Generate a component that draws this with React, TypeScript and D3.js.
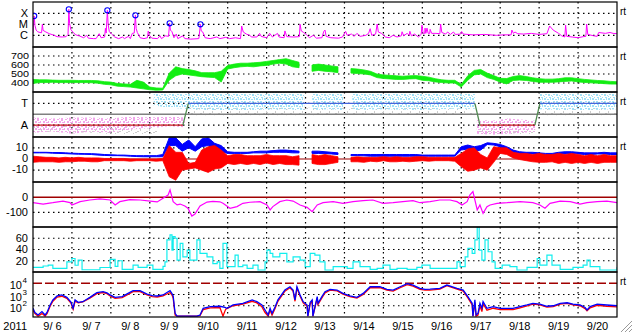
import React from "react";
import * as d3 from "d3";

// ---------------- data ----------------
const YEAR = 2011;
const MONTH_INDEX = 8; // September
const FIRST_DAY = 6;
const LAST_DAY = 21;
const STEP = 1 / 6; // 4-hour cadence for sampled series

// GOES X-ray flux, [day of Sept, flux in 1e-6 W/m2]
const xrayFlux: [number, number][] = [
  [6.0, 1.6], [6.02, 20], [6.03, 57], [6.05, 8], [6.08, 3], [6.12, 2.1], [6.18, 1.8], [6.22, 1.7], [6.24, 10], [6.26, 2.8],
  [6.33, 2.0], [6.42, 1.4], [6.52, 1.07], [6.62, 0.75], [6.75, 0.7], [6.85, 0.75], [6.9, 1.2], [6.92, 230], [6.94, 12], [6.97, 3.5],
  [7.02, 2.0], [7.1, 1.1], [7.2, 0.85], [7.3, 0.6], [7.38, 1.0], [7.42, 0.55], [7.55, 0.5], [7.62, 0.5], [7.7, 1.4], [7.75, 0.6],
  [7.84, 0.7], [7.86, 4.3], [7.88, 1.6], [7.91, 187], [7.93, 10], [7.96, 2.2], [8.02, 1.3], [8.1, 0.7], [8.2, 0.5], [8.3, 0.7],
  [8.35, 0.5], [8.45, 0.8], [8.5, 0.5], [8.55, 1.5], [8.6, 1.6], [8.63, 66], [8.65, 4], [8.68, 1.8], [8.75, 0.6], [8.85, 0.5],
  [8.94, 0.6], [8.96, 2.4], [8.99, 1.0], [9.05, 0.55], [9.2, 0.5], [9.26, 0.9], [9.3, 0.5], [9.4, 0.9], [9.48, 0.8], [9.51, 12.3],
  [9.53, 3], [9.57, 2.1], [9.62, 0.6], [9.68, 1.3], [9.72, 0.5], [9.85, 0.9], [9.9, 0.5], [10.05, 0.45], [10.26, 0.5], [10.3, 10],
  [10.32, 2.5], [10.36, 2.0], [10.42, 0.6], [10.55, 0.5], [10.72, 0.7], [10.8, 0.5], [10.95, 0.65], [11.05, 0.5], [11.2, 0.6], [11.33, 0.5],
  [11.36, 7], [11.4, 2.0], [11.48, 1.3], [11.56, 1.0], [11.62, 0.7], [11.75, 0.7], [11.82, 1.5], [11.86, 0.8], [12.0, 0.6], [12.08, 1.5],
  [12.15, 0.7], [12.28, 1.5], [12.32, 0.7], [12.45, 0.6], [12.47, 2.5], [12.52, 0.75], [12.7, 0.7], [12.84, 0.75], [12.86, 10], [12.89, 2.5],
  [12.95, 1.8], [13.02, 1.2], [13.1, 0.6], [13.2, 1.0], [13.28, 0.55], [13.42, 0.6], [13.47, 2.3], [13.5, 3], [13.53, 0.8], [13.65, 0.6],
  [13.85, 0.55], [13.95, 0.7], [14.03, 2.3], [14.07, 1.0], [14.18, 1.3], [14.25, 0.8], [14.32, 1.5], [14.4, 0.8], [14.55, 1.0], [14.62, 1.5],
  [14.66, 4], [14.7, 1.0], [14.8, 1.3], [14.84, 10.6], [14.87, 2.0], [14.95, 1.5], [15.05, 0.7], [15.15, 0.6], [15.25, 1.0], [15.35, 0.7],
  [15.46, 0.9], [15.48, 2.1], [15.52, 0.9], [15.61, 1.5], [15.66, 1.0], [15.68, 2.3], [15.72, 0.9], [15.8, 1.3], [15.9, 0.7], [15.97, 1.2],
  [15.99, 8.4], [16.02, 1.5], [16.06, 1.5], [16.07, 4.5], [16.09, 1.5], [16.12, 4.5], [16.15, 1.5], [16.19, 1.5], [16.2, 3.5], [16.24, 1.5],
  [16.35, 1.5], [16.45, 1.4], [16.47, 10.6], [16.5, 1.8], [16.6, 1.3], [16.65, 2.0], [16.72, 1.2], [16.8, 2.0], [16.85, 1.2], [16.98, 1.3],
  [17.01, 2.2], [17.05, 1.3], [17.3, 1.1], [17.6, 1.2], [17.9, 1.0], [18.1, 1.1], [18.28, 1.1], [18.3, 3], [18.34, 1.5], [18.38, 2.0],
  [18.45, 1.4], [18.6, 1.3], [18.8, 1.5], [19.0, 1.2], [19.2, 1.4], [19.27, 7], [19.36, 3], [19.5, 1.5], [19.58, 0.9], [19.66, 0.7],
  [19.68, 8.4], [19.71, 0.8], [19.85, 0.7], [20.0, 0.6], [20.13, 0.75], [20.2, 0.8], [20.22, 10.6], [20.25, 1.2], [20.4, 0.9], [20.49, 0.8],
  [20.53, 1.8], [20.7, 1.5], [20.82, 1.8], [20.9, 1.5], [21.0, 1.4],
];
const flarePeaks: [number, number][] = [[6.03, 57], [6.92, 230], [7.91, 187], [8.63, 66], [9.51, 12.3], [10.3, 10]];
const xrayClassLevels: [string, number][] = [["X", 100], ["M", 10], ["C", 1]];

// Solar wind speed (km/s), 4-hour min / max
const windSpeedLo: (number | null)[] = [
  395, 405, 405, 408, 405, 405, 405, 405, 405, 403, 398, 385, 380, 365, 360, 355, 345, 335, 325, 320,
  322, 430, 480, 500, 490, 480, 470, 465, 460, 410, 555, 570, 580, 585, 580, 590, 595, 610, 620, 610,
  580, 570, null, 530, 540, 530, 525, 515, null, 510, 505, 500, 490, 460, 450, 445, 440, 440, 445, 448,
  430, 425, 412, 405, 400, 400, 355, 430, 490, 500, 460, 440, 410, 390, 428, 432, 428, 418, 408, 408,
  408, 412, 418, 422, 412, 406, 402, 398, 393, 388, 388,
];
const windSpeedHi: (number | null)[] = [
  440, 435, 435, 432, 430, 430, 430, 428, 428, 428, 425, 415, 410, 395, 390, 385, 430, 410, 355, 345,
  342, 510, 580, 560, 550, 535, 515, 515, 515, 530, 595, 610, 620, 620, 625, 630, 640, 650, 660, 670,
  650, 630, null, 600, 610, 600, 590, 580, null, 560, 555, 545, 530, 500, 490, 485, 480, 475, 480, 482,
  475, 465, 448, 435, 430, 430, 385, 480, 540, 550, 510, 482, 452, 450, 472, 482, 472, 458, 448, 443,
  443, 448, 458, 458, 448, 440, 434, 428, 424, 418, 414,
];
const windSpeedTicks = [700, 600, 500, 400];

// IMF sector (T = toward +1, A = away -1)
const sectorDays = [6, 9.85, 9.99, 17.35, 17.48, 18.89, 19.02, 21];
const sectorState = [-1, -1, 1, 1, -1, -1, 1, 1];
const sectorLabels: [string, number][] = [["T", 1], ["A", -1]];
// scattered field-angle samples, [day, low, high]
const phiAway: [number, number | null, number | null][] = [
  [6.0, -1.7, -0.3], [6.5, -1.6, -0.4], [7.0, -1.8, -0.3], [7.5, -1.6, -0.3], [8.0, -1.7, -0.4], [8.5, -1.4, -0.2],
  [9.0, -1.3, -0.3], [9.5, -1.1, -0.2], [9.9, -1.2, -0.3], [9.95, null, null],
  [17.4, -1.8, -0.5], [17.8, -1.9, -0.6], [18.2, -1.8, -0.4], [18.6, -1.7, -0.5], [18.9, -1.6, -0.6],
];
const phiToward: [number, number | null, number | null][] = [
  [9.1, 0.8, 2.0], [9.5, 0.6, 2.05], [9.9, 0.5, 2.05], [10.5, 0.4, 2.05], [11.5, 0.4, 2.05], [12.5, 0.45, 2.05], [12.97, 0.4, 2.05], [13.0, null, null],
  [13.17, 0.4, 2.05], [13.6, 0.45, 2.05], [13.97, 0.4, 2.05], [14.0, null, null],
  [14.2, 0.4, 2.05], [15.0, 0.45, 2.05], [16.0, 0.4, 2.05], [16.8, 0.5, 2.05], [17.35, 0.5, 2.05], [17.4, null, null],
  [19.0, 0.45, 2.05], [19.6, 0.4, 2.05], [20.3, 0.4, 2.05], [21.0, 0.45, 2.05],
];
const phiOther: [number, number | null, number | null][] = [
  [6.0, -1.6, -1.0], [7.5, -1.7, -1.0], [8.2, -1.9, -1.1], [9.2, -1.9, -1.1], [9.25, null, null],
  [10.0, -0.1, 0.6], [13.0, -0.1, 0.6], [16.0, 0.0, 0.6], [17.3, 0.0, 0.5], [17.35, null, null],
  [17.4, -1.9, -1.4], [18.9, -1.9, -1.4], [18.95, null, null],
  [19.0, -0.1, 0.5], [21.0, -0.1, 0.5],
];

// IMF |B| and Bz (nT), 4-hour min / max
const btLo: (number | null)[] = [
  5.5, 5.5, 5.5, 5.2, 5, 4.8, 4.5, 4.3, 4.2, 4, 3.5, 3.2, 3, 3, 2.8, 2.5, 2.2, 2, 2, 2,
  2, 12, 12, 7, 10, 7, 11, 12, 8, 6.5, 5, 5, 5, 5, 5.5, 5.5, 5.5, 6, 6, 6,
  5.5, 5.5, null, 5, 5, 5, 4.5, 4, null, 3, 3, 2.8, 2.5, 2.5, 2.5, 2.5, 2.5, 2.5, 2.5, 2.5,
  2.5, 2.5, 2.5, 2.5, 2.5, 2.5, 8, 9, 7, 8, 13, 12.5, 11, 8, 6, 5, 4.5, 4.5, 4, 4,
  4, 4.5, 4.5, 5, 4.5, 4, 4, 4.5, 4.5, 4, 4,
];
const btHi: (number | null)[] = [
  6, 6, 6, 5.8, 5.8, 5.5, 5.2, 5, 4.8, 4.8, 4.5, 4, 3.8, 3.5, 3.5, 3.2, 3, 3, 3, 3,
  4, 19, 19, 13, 17, 11, 18, 19, 14, 12, 6.5, 6, 6, 6, 6.5, 7, 7, 7.5, 8, 8,
  7.5, 7, null, 7, 7, 6.5, 6, 5.5, null, 4, 4, 4, 4, 4, 4, 4, 4, 4, 4, 4,
  3.5, 3.5, 3.5, 3.5, 3.5, 3.5, 11, 12.5, 11, 12, 14.5, 14, 13, 11, 8, 6.5, 6, 6, 5.5, 5,
  5, 6, 6.5, 6.5, 6, 5.5, 5.5, 5.5, 6, 5.5, 5.5,
];
const bzLo: (number | null)[] = [
  -3, -2.5, -2.5, -2.5, -3, -2.5, -2.5, -2, -2, -2.5, -2.5, -1.5, -1.5, -1.5, -1.5, -2, -1.5, -1.5, -1.5, -2,
  -1.5, -16, -19, -10, -9, -8, -10, -12, -9, -8, -4, -5, -4, -5, -4, -5, -3.5, -5, -4, -5,
  -5, -5.5, null, -4, -5, -5, -4, -3, null, -2.5, -2.5, -3, -2, -2.5, -1.5, -2.5, -2.5, -2, -2.5, -2,
  -1.5, -2, -1.5, -1.5, -1.5, -2, -7, -11, -10, -8, -10, -3, 5, 4, 1, -0.5, -1.5, -2.5, -3, -3,
  -2.5, -4, -3, -4, -3, -4, -3, -4, -3, -3, -3,
];
const bzHi: (number | null)[] = [
  2.5, 2, 1.5, 1.5, 1, 1.5, 1, 1.5, 1, 1, 1, 0.5, 0.5, 0.5, 0.5, 0, 0, 0, 0, 0,
  0.5, 12, 6, 6, -4, -3, 8, 11, 12, 8, 3, 4, 4, 3, 3, 3, 4, 3, 3, 3,
  2, 3, null, 4, 3, 4, 3, 2, null, 1.5, 2, 1.5, 1.5, 1.5, 2, 1.5, 2, 1.5, 1.5,
  2, 2, 1.5, 1.5, 1.5, 1.5, 1.5, 5, 9, 10, 4, 1, 11, 10, 10, 6, 5, 5, 4, 5, 4,
  4, 5, 4, 5, 4, 3, 4, 3, 4, 3, 3,
];
const bTicks = [10, 0, -10];

// Dst (nT)
const dstIndex: [number, number][] = [
  [6.0, -36], [6.26, -45], [6.51, -36], [6.77, -25], [6.95, -35], [7.0, -51], [7.21, -29], [7.46, -18], [7.72, -11], [7.98, -18],
  [8.11, -51], [8.23, -29], [8.49, -16], [8.75, -18], [9.01, -25], [9.19, -31], [9.34, -7], [9.47, 15], [9.52, 49], [9.6, -29],
  [9.7, -51], [9.78, -45], [9.9, -58], [9.98, -73], [10.08, -125], [10.16, -111], [10.29, -58], [10.47, -32], [10.62, -27], [10.8, -30],
  [10.88, -40], [11.06, -73], [11.24, -62], [11.39, -40], [11.57, -33], [11.83, -29], [12.01, -51], [12.09, -84], [12.16, -62], [12.34, -29],
  [12.52, -18], [12.68, -25], [12.86, -51], [13.04, -67], [13.17, -96], [13.3, -51], [13.45, -36], [13.71, -29], [13.96, -40], [14.22, -29],
  [14.48, -22], [14.73, -18], [14.99, -40], [15.25, -36], [15.5, -29], [15.76, -22], [15.94, -36], [16.2, -29], [16.45, -18], [16.71, -18],
  [16.89, -29], [17.02, -51], [17.15, -29], [17.22, 15], [17.3, 38], [17.35, -18], [17.41, -84], [17.48, -51], [17.56, -107], [17.66, -62],
  [17.74, -51], [17.92, -40], [18.18, -36], [18.51, -29], [18.84, -36], [19.02, -51], [19.15, -73], [19.28, -40], [19.54, -25], [19.8, -29],
  [20.05, -45], [20.23, -36], [20.49, -29], [20.74, -25], [21.0, -36],
];
const dstTicks = [0, -100];

// activity index (cyan)
const activityIndex: [number, number][] = [
  [6.0, 8.3], [6.26, 10.7], [6.39, 12.4], [6.51, 6.5], [6.87, 18], [7.0, 24], [7.08, 12], [7.16, 21], [7.26, 4], [7.72, 8],
  [7.98, 22.5], [8.11, 10], [8.18, 20], [8.29, 4.7], [8.57, 12.4], [8.7, 8.3], [8.93, 12.4], [9.08, 4.7], [9.34, 10], [9.39, 18],
  [9.44, 57], [9.52, 66], [9.57, 39], [9.6, 63], [9.65, 60], [9.7, 21], [9.78, 51], [9.85, 27], [9.96, 39], [10.03, 21],
  [10.21, 57], [10.29, 33], [10.47, 27], [10.62, 15], [10.73, 18], [10.8, 6.5], [10.88, 51], [10.98, 9.5], [11.19, 30], [11.27, 9.5],
  [11.39, 12.4], [11.5, 6.5], [11.65, 12.4], [11.78, 3.6], [11.96, 18], [12.01, 39], [12.09, 33], [12.16, 27], [12.34, 33], [12.52, 18],
  [12.68, 27], [12.86, 21], [12.99, 9.5], [13.12, 33], [13.24, 30], [13.37, 18], [13.5, 3.6], [13.71, 9.5], [13.89, 9.5], [14.07, 6.5],
  [14.22, 18], [14.4, 9.5], [14.66, 4.7], [14.84, 6.5], [14.99, 12.4], [15.17, 4.7], [15.35, 6.5], [15.61, 4.7], [15.86, 8.3], [15.99, 12.4],
  [16.2, 6.5], [16.79, 6.5], [16.89, 18], [16.97, 9.5], [17.1, 27], [17.17, 42], [17.28, 33], [17.35, 57], [17.41, 80], [17.46, 39],
  [17.53, 21], [17.61, 57], [17.69, 36], [17.79, 18], [17.87, 6.5], [18.05, 12.4], [18.25, 9.5], [18.43, 3.6], [18.69, 8.3], [18.95, 24],
  [19.02, 12.4], [19.2, 30], [19.33, 12.4], [19.54, 4.7], [19.87, 8.3], [20.13, 12.4], [20.23, 21], [20.31, 9.5], [20.56, 3.6], [21.0, 8.3],
];
const activityTicks = [60, 40, 20];

// electron flux, two channels
const fluxBlue: [number, number][] = [
  [6.0, 59], [6.05, 25], [6.13, 15], [6.23, 30], [6.31, 15], [6.36, 25], [6.44, 117], [6.51, 330], [6.62, 740], [6.74, 910],
  [6.87, 560], [6.98, 200], [7.0, 117], [7.03, 60], [7.08, 330], [7.16, 200], [7.28, 230], [7.46, 560], [7.64, 1450], [7.8, 1780],
  [7.9, 1400], [7.98, 910], [8.11, 560], [8.29, 640], [8.44, 1260], [8.57, 2180], [8.75, 2180], [8.93, 1100], [9.06, 800], [9.19, 740],
  [9.34, 910], [9.44, 1500], [9.52, 2180], [9.57, 1200], [9.6, 740], [9.65, 21], [9.7, 12], [10.21, 12], [10.29, 15], [10.37, 59],
  [10.55, 83], [10.8, 90], [10.93, 70], [10.98, 59], [11.14, 117], [11.39, 165], [11.63, 330], [11.75, 230], [11.88, 117], [11.96, 42],
  [12.04, 15], [12.09, 60], [12.14, 21], [12.22, 83], [12.29, 330], [12.47, 2500], [12.6, 4900], [12.68, 2500], [12.73, 330], [12.78, 4900],
  [12.86, 910], [12.94, 230], [13.04, 117], [13.06, 12], [13.12, 200], [13.17, 330], [13.19, 12], [13.3, 640], [13.32, 165], [13.42, 640],
  [13.5, 1780], [13.63, 2900], [13.81, 2500], [13.96, 1260], [14.14, 740], [14.32, 560], [14.48, 1260], [14.66, 4900], [14.91, 4900], [15.09, 2900],
  [15.25, 2500], [15.43, 4900], [15.61, 9100], [15.76, 6900], [15.94, 3500], [16.07, 2900], [16.2, 3000], [16.45, 3500], [16.63, 6900], [16.89, 3500],
  [17.05, 2500], [17.17, 640], [17.28, 165], [17.3, 12], [17.35, 330], [17.38, 15], [17.43, 21], [17.48, 165], [17.53, 60], [17.56, 230],
  [17.66, 59], [17.82, 83], [18.0, 59], [18.18, 59], [18.33, 59], [18.51, 83], [18.69, 117], [18.84, 165], [19.02, 140], [19.2, 90],
  [19.36, 100], [19.54, 165], [19.72, 185], [19.87, 140], [20.05, 117], [20.18, 70], [20.23, 42], [20.31, 83], [20.49, 140], [20.74, 117],
  [21.0, 100],
];
const fluxRed: [number, number][] = [
  [6.0, 40], [6.05, 20], [6.13, 12], [6.23, 20], [6.31, 12], [6.36, 20], [6.44, 90], [6.51, 250], [6.62, 600], [6.74, 700],
  [6.87, 450], [6.98, 160], [7.0, 100], [7.03, 50], [7.08, 250], [7.16, 180], [7.28, 220], [7.46, 480], [7.64, 1200], [7.8, 1500],
  [7.9, 1200], [7.98, 750], [8.11, 450], [8.29, 520], [8.44, 1000], [8.57, 1800], [8.75, 1800], [8.93, 900], [9.06, 650], [9.19, 600],
  [9.34, 750], [9.44, 1100], [9.52, 1500], [9.57, 900], [9.6, 500], [9.65, 15], [9.7, 12], [10.21, 12], [10.29, 13], [10.37, 45],
  [10.55, 65], [10.8, 70], [10.88, 12], [10.95, 50], [11.14, 100], [11.39, 140], [11.63, 250], [11.75, 180], [11.88, 80], [11.96, 25],
  [12.04, 12], [12.09, 40], [12.14, 15], [12.22, 60], [12.29, 250], [12.47, 2000], [12.6, 4000], [12.68, 2000], [12.73, 250], [12.78, 3800],
  [12.86, 700], [12.94, 180], [13.04, 90], [13.06, 12], [13.12, 150], [13.17, 250], [13.19, 12], [13.3, 500], [13.32, 130], [13.42, 500],
  [13.5, 1400], [13.63, 2400], [13.81, 2100], [13.96, 1100], [14.14, 650], [14.32, 480], [14.48, 1000], [14.66, 4000], [14.91, 4000], [15.09, 2500],
  [15.25, 2000], [15.43, 4000], [15.61, 7500], [15.76, 5500], [15.94, 2900], [16.07, 2500], [16.2, 2500], [16.45, 3000], [16.63, 6000], [16.89, 3000],
  [17.05, 2000], [17.17, 500], [17.28, 120], [17.3, 12], [17.35, 200], [17.38, 12], [17.43, 15], [17.48, 100], [17.53, 30], [17.56, 150],
  [17.66, 40], [17.82, 60], [18.0, 45], [18.18, 45], [18.33, 45], [18.51, 65], [18.69, 95], [18.84, 140], [19.02, 120], [19.2, 75],
  [19.36, 85], [19.54, 140], [19.72, 160], [19.87, 120], [20.05, 100], [20.18, 55], [20.23, 35], [20.31, 65], [20.49, 110], [20.74, 90],
  [21.0, 80],
];
const fluxTickExponents = [4, 3, 2];
const fluxAlertLevel = 1e4;

// ---------------- layout / style ----------------
const W = 633;
const H = 334;
const X0 = 33;
const X1 = 617;
const TOP = 2;
const PH = 45;
const FONT = "'Liberation Sans', Arial, sans-serif";
const DOT = "1.5,3.5";

const dayToDate = (d: number) => new Date(Date.UTC(YEAR, MONTH_INDEX, 1) + (d - 1) * 864e5);
const stepDay = (i: number) => FIRST_DAY + i * STEP;
const panelTop = (k: number) => TOP + k * PH;

export default function App() {
  const x = d3.scaleUtc().domain([dayToDate(FIRST_DAY), dayToDate(LAST_DAY)]).range([X0, X1]);
  const xd = (d: number) => x(dayToDate(d));

  const yXray = d3.scaleLog().domain([0.1, 1000]).range([panelTop(1) - 0.7, TOP + 0.3]);
  const yV = d3.scaleLinear().domain([300, 800]).range([panelTop(2), panelTop(1)]);
  const yPhi = d3.scaleLinear().domain([-2.1, 2.05]).range([panelTop(3), panelTop(2)]);
  const yB = d3.scaleLinear().domain([-20.6, 19.7]).range([panelTop(4), panelTop(3)]);
  const yDst = d3.scaleLinear().domain([-198, 102]).range([panelTop(5), panelTop(4)]);
  const yAct = d3.scaleLinear().domain([0, 80]).range([panelTop(6), panelTop(5)]);
  const yFlux = d3.scaleLog().domain([10, 1e5]).range([panelTop(7), panelTop(6)]);

  const pairLine = (y: (v: number) => number, curve: d3.CurveFactory = d3.curveLinear) =>
    d3.line<[number, number]>().x((p) => xd(p[0])).y((p) => y(p[1])).curve(curve);

  const sampledBand = (lo: (number | null)[], hi: (number | null)[], y: (v: number) => number) =>
    d3
      .area<number>()
      .defined((i) => lo[i] != null && hi[i] != null)
      .x((i) => xd(stepDay(i)))
      .y0((i) => y(lo[i] as number))
      .y1((i) => y(hi[i] as number))(d3.range(lo.length)) || "";

  const tupleBand = (data: [number, number | null, number | null][], y: (v: number) => number) =>
    d3
      .area<[number, number | null, number | null]>()
      .defined((p) => p[1] != null)
      .x((p) => xd(p[0]))
      .y0((p) => y(p[1] as number))
      .y1((p) => y(p[2] as number))(data) || "";

  const midnights = d3.utcDay.range(dayToDate(FIRST_DAY + 1), dayToDate(LAST_DAY));
  const days = d3.utcDay.range(dayToDate(FIRST_DAY), dayToDate(LAST_DAY));
  const fmt = d3.utcFormat("%-m/%e");

  const hDot = (y: number, key: string) => (
    <line key={key} x1={X0} x2={X1} y1={y} y2={y} stroke="#000" strokeWidth={1.2} strokeDasharray={DOT} />
  );
  const label = (t: string, y: number, key: string, size = 11) => (
    <text key={key} x={28} y={y + size * 0.36} textAnchor="end" fontSize={size} fontFamily={FONT}>
      {t}
    </text>
  );
  const rt = (k: number) => (
    <text key={"rt" + k} x={620} y={panelTop(k) + 13} fontSize={10} fontFamily={FONT}>
      rt
    </text>
  );

  const sectorSegs = d3.range(sectorDays.length - 1).map((i) => {
    const s0 = sectorState[i];
    const s1 = sectorState[i + 1];
    const color = s0 !== s1 ? "#4f8a4f" : s0 > 0 ? "#4466dd" : "#cc2222";
    return (
      <line
        key={"sec" + i}
        x1={xd(sectorDays[i])}
        x2={xd(sectorDays[i + 1])}
        y1={yPhi(s0)}
        y2={yPhi(s1)}
        stroke={color}
        strokeWidth={1.3}
      />
    );
  });

  const speck = (id: string, color: string, cells: number[][], w: number, h: number) => (
    <pattern id={id} width={w} height={h} patternUnits="userSpaceOnUse">
      {cells.map((c, i) => (
        <rect key={i} x={c[0]} y={c[1]} width={c[2]} height={c[3]} fill={color} />
      ))}
    </pattern>
  );

  return (
    <svg
      width={W}
      height={H}
      style={{ position: "absolute", left: 0, top: 0, background: "#fff" }}
      fontFamily={FONT}
    >
      <defs>
        {d3.range(7).map((k) => (
          <clipPath id={"clip" + k} key={k}>
            <rect x={X0} y={panelTop(k)} width={X1 - X0} height={PH} />
          </clipPath>
        ))}
        {speck("pCyan", "#9fe0f6", [[0, 0, 2, 2], [3, 1, 2, 1], [6, 0, 1, 2], [1, 3, 2, 1], [4, 3, 2, 2], [7, 4, 1, 1], [0, 5, 1, 1], [5, 6, 2, 1], [2, 6, 1, 1]], 8, 7)}
        {speck("pPink", "#f2a6eb", [[1, 0, 2, 1], [5, 0, 2, 2], [0, 2, 1, 2], [3, 2, 2, 2], [7, 3, 1, 1], [1, 5, 2, 1], [5, 5, 2, 2], [3, 6, 1, 1], [6, 3, 1, 1]], 8, 7)}
        {speck("pGray", "#cccccc", [[0, 0, 2, 1], [5, 3, 1, 2], [2, 5, 2, 1], [7, 1, 1, 1]], 9, 6)}
      </defs>

      {/* vertical day grid */}
      {midnights.map((d, i) => (
        <line
          key={"vg" + i}
          x1={x(d)}
          x2={x(d)}
          y1={TOP}
          y2={panelTop(7)}
          stroke="#000"
          strokeWidth={1.2}
          strokeDasharray={DOT}
        />
      ))}

      {/* Panel 1: X-ray */}
      {xrayClassLevels.map(([c, v]) => hDot(yXray(v), "xg" + c))}
      {xrayClassLevels.map(([c, v]) => label(c, yXray(v), "xl" + c))}
      <g clipPath="url(#clip0)">
        <path d={pairLine(yXray)(xrayFlux) || ""} fill="none" stroke="#ff00ff" strokeWidth={1} />
        {flarePeaks.map(([d, v], i) => (
          <circle key={"fl" + i} cx={xd(d)} cy={yXray(v)} r={2.6} fill="none" stroke="#0000ff" strokeWidth={1.1} />
        ))}
      </g>

      {/* Panel 2: speed */}
      {windSpeedTicks.map((v) => hDot(yV(v), "vg" + v))}
      {windSpeedTicks.map((v) => (
        <text
          key={"vl" + v}
          x={29}
          y={yV(v) + 3.2}
          textAnchor="end"
          fontSize={8.6}
          fontFamily={FONT}
          textLength={18}
          lengthAdjust="spacingAndGlyphs"
        >
          {v}
        </text>
      ))}
      <g clipPath="url(#clip1)">
        <path d={sampledBand(windSpeedLo, windSpeedHi, yV)} fill="#11ee11" stroke="#11ee11" strokeWidth={0.8} />
      </g>

      {/* Panel 3: sector */}
      <g clipPath="url(#clip2)">
        <path d={tupleBand(phiOther, yPhi)} fill="url(#pGray)" />
        <path d={tupleBand(phiAway, yPhi)} fill="url(#pPink)" />
        <path d={tupleBand(phiToward, yPhi)} fill="url(#pCyan)" />
      </g>
      {sectorLabels.map(([t, v]) => hDot(yPhi(v), "sg" + t))}
      {sectorLabels.map(([t, v]) => label(t, yPhi(v), "sl" + t))}
      <line x1={X0} x2={X1} y1={yPhi(0)} y2={yPhi(0)} stroke="#808080" strokeWidth={1.3} />
      {sectorSegs}

      {/* Panel 4: IMF */}
      {bTicks.filter((v) => v !== 0).map((v) => hDot(yB(v), "bg" + v))}
      {bTicks.map((v) => label(String(v), yB(v) - 1, "bl" + v))}
      <line x1={X0} x2={X1} y1={yB(0)} y2={yB(0)} stroke="#a00000" strokeWidth={1.2} />
      <g clipPath="url(#clip3)">
        <path d={sampledBand(btLo, btHi, yB)} fill="#0000ff" stroke="#0000ff" strokeWidth={1} />
        <path d={sampledBand(bzLo, bzHi, yB)} fill="#ff0000" stroke="#ff0000" strokeWidth={0.8} />
      </g>

      {/* Panel 5: Dst */}
      {dstTicks.filter((v) => v !== 0).map((v) => hDot(yDst(v), "dg" + v))}
      {dstTicks.map((v) => label(String(v), yDst(v), "dl" + v))}
      <line x1={X0} x2={X1} y1={yDst(0)} y2={yDst(0)} stroke="#a00000" strokeWidth={1.5} />
      <g clipPath="url(#clip4)">
        <path d={pairLine(yDst)(dstIndex) || ""} fill="none" stroke="#ff00ff" strokeWidth={1.2} />
      </g>

      {/* Panel 6: activity */}
      {activityTicks.map((v) => hDot(yAct(v), "ag" + v))}
      {activityTicks.map((v) => label(String(v), yAct(v), "al" + v))}
      <g clipPath="url(#clip5)">
        <path d={pairLine(yAct, d3.curveStepAfter)(activityIndex) || ""} fill="none" stroke="#11eeee" strokeWidth={1.2} />
      </g>

      {/* Panel 7: flux */}
      {fluxTickExponents.filter((e) => e !== 4).map((e) => hDot(yFlux(Math.pow(10, e)), "fg" + e))}
      <line
        x1={X0}
        x2={X1}
        y1={yFlux(fluxAlertLevel)}
        y2={yFlux(fluxAlertLevel)}
        stroke="#a00000"
        strokeWidth={1.3}
        strokeDasharray="9,3"
      />
      {fluxTickExponents.map((e) => {
        const y = yFlux(Math.pow(10, e));
        return (
          <text key={"ft" + e} x={22} y={y + 6} textAnchor="end" fontSize={11} fontFamily={FONT}>
            10
            <tspan x={22.5} y={y} fontSize={8} textAnchor="start">
              {e}
            </tspan>
          </text>
        );
      })}
      <g clipPath="url(#clip6)">
        <path d={pairLine(yFlux)(fluxRed) || ""} fill="none" stroke="#ff0000" strokeWidth={1.3} />
        <path d={pairLine(yFlux)(fluxBlue) || ""} fill="none" stroke="#0000ff" strokeWidth={1.3} />
      </g>

      {/* frames */}
      {d3.range(7).map((k) => (
        <rect
          key={"fr" + k}
          x={X0}
          y={panelTop(k)}
          width={X1 - X0}
          height={PH}
          fill="none"
          stroke="#000"
          strokeWidth={1.2}
        />
      ))}
      {[0, 1, 2, 3, 6].map((k) => rt(k))}

      {/* x axis labels */}
      {days.map((d, i) => (
        <text
          key={"dl" + i}
          x={x(d3.utcHour.offset(d, 12))}
          y={330}
          textAnchor="middle"
          fontSize={11}
          fontFamily={FONT}
          style={{ whiteSpace: "pre" }}
        >
          {fmt(d)}
        </text>
      ))}
      <text x={27} y={330} textAnchor="end" fontSize={11} fontFamily={FONT}>
        {YEAR}
      </text>

      {/* window resize grip */}
      {[0, 4, 8].map((o) => (
        <g key={"grip" + o}>
          <line x1={632} y1={321 + o} x2={621 + o} y2={332} stroke="#999" strokeWidth={1} />
          <line x1={632} y1={322 + o} x2={622 + o} y2={332} stroke="#fff" strokeWidth={1} />
        </g>
      ))}
    </svg>
  );
}
